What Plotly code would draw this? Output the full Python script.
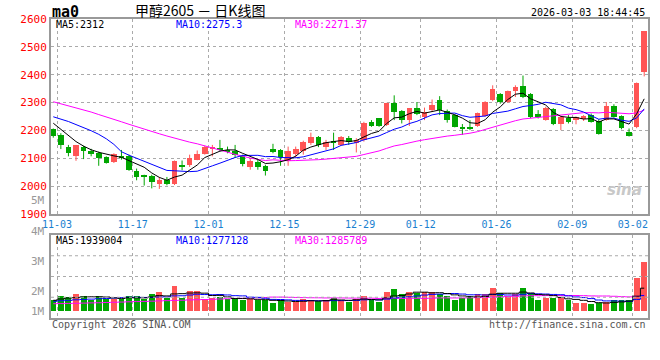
import plotly.graph_objects as go
import pandas as pd

# ---------------- data ----------------
dates = ["10-31",
         "11-03", "11-04", "11-05", "11-06", "11-07",
         "11-10", "11-11", "11-12", "11-13", "11-14",
         "11-17", "11-18", "11-19", "11-20", "11-21",
         "11-24", "11-25", "11-26", "11-27", "11-28",
         "12-01", "12-02", "12-03", "12-04", "12-05",
         "12-08", "12-09", "12-10", "12-11", "12-12",
         "12-15", "12-16", "12-17", "12-18", "12-19",
         "12-22", "12-23", "12-24", "12-25", "12-26",
         "12-29", "12-30", "12-31",
         "01-05", "01-06", "01-07", "01-08", "01-09",
         "01-12", "01-13", "01-14", "01-15", "01-16",
         "01-19", "01-20", "01-21", "01-22", "01-23",
         "01-26", "01-27", "01-28", "01-29", "01-30",
         "02-02", "02-03", "02-04", "02-05", "02-06",
         "02-09", "02-10", "02-11", "02-12", "02-13",
         "02-25", "02-26", "02-27",
         "03-02", "03-03"]

opens = [2205, 2184, 2142, 2109, 2141, 2127, 2118, 2103, 2085, 2110,
         2107, 2053, 2038, 2038, 2009, 2021, 2006, 2077, 2077, 2095,
         2116, 2133, 2138, 2131, 2127, 2109, 2069, 2085, 2073, 2133,
         2130, 2089, 2116, 2127, 2154, 2178, 2142, 2162, 2148, 2172,
         2156, 2166, 2231, 2243, 2219, 2299, 2269, 2239, 2279, 2249,
         2273, 2308, 2270, 2255, 2211, 2213, 2216, 2251, 2308, 2330,
         2302, 2341, 2358, 2330, 2258, 2237, 2276, 2223, 2243, 2237,
         2241, 2257, 2235, 2237, 2287, 2251, 2194, 2213, 2409]
highs = [2207, 2190, 2148, 2148, 2145, 2134, 2124, 2107, 2118, 2130,
         2113, 2063, 2041, 2041, 2033, 2033, 2092, 2092, 2113, 2128,
         2145, 2148, 2166, 2142, 2148, 2113, 2101, 2097, 2077, 2152,
         2133, 2142, 2142, 2163, 2192, 2180, 2166, 2192, 2180, 2180,
         2172, 2231, 2237, 2243, 2299, 2326, 2273, 2279, 2302, 2282,
         2311, 2323, 2275, 2258, 2223, 2237, 2264, 2305, 2362, 2334,
         2343, 2362, 2397, 2334, 2273, 2285, 2280, 2252, 2255, 2250,
         2255, 2261, 2240, 2302, 2294, 2254, 2207, 2372, 2557]
lows = [2174, 2133, 2107, 2091, 2097, 2107, 2073, 2081, 2083, 2095,
        2055, 2021, 2002, 1992, 1990, 2003, 2004, 2057, 2069, 2093,
        2113, 2107, 2125, 2118, 2101, 2071, 2059, 2059, 2038, 2118,
        2073, 2073, 2101, 2113, 2148, 2140, 2130, 2130, 2145, 2148,
        2121, 2160, 2213, 2213, 2216, 2237, 2225, 2216, 2255, 2237,
        2267, 2255, 2228, 2211, 2184, 2201, 2213, 2249, 2305, 2296,
        2299, 2320, 2316, 2244, 2243, 2235, 2219, 2201, 2225, 2222,
        2234, 2228, 2185, 2235, 2246, 2204, 2178, 2208, 2394]
closes = [2181, 2146, 2118, 2146, 2127, 2116, 2101, 2083, 2116, 2101,
          2057, 2032, 2033, 2014, 2021, 2006, 2089, 2067, 2101, 2116,
          2140, 2142, 2129, 2125, 2113, 2080, 2092, 2069, 2053, 2121,
          2103, 2127, 2134, 2160, 2178, 2148, 2160, 2154, 2178, 2160,
          2166, 2225, 2217, 2217, 2299, 2267, 2239, 2279, 2258, 2267,
          2291, 2273, 2237, 2213, 2207, 2208, 2261, 2302, 2350, 2302,
          2340, 2356, 2320, 2249, 2249, 2282, 2223, 2249, 2231, 2248,
          2253, 2231, 2187, 2287, 2249, 2210, 2181, 2370, 2557]
volumes = [910000, 1250000, 1165000, 1420000, 1250000, 960000, 1300000, 1020000, 1046000, 1020000,
           1250000, 1250000, 1020000, 1420000, 1590000, 1131000, 2100000, 1131000, 1675000, 1675000,
           995000, 1105000, 1190000, 1046000, 995000, 960000, 995000, 960000, 910000, 706000,
           910000, 765000, 765000, 995000, 910000, 825000, 910000, 1131000, 910000, 765000,
           1046000, 1250000, 910000, 765000, 1590000, 1870000, 1420000, 1590000, 1530000, 1590000,
           1590000, 1470000, 1250000, 960000, 1131000, 1250000, 1420000, 1420000, 1930000, 1530000,
           1250000, 1420000, 1930000, 1530000, 910000, 1080000, 1080000, 1190000, 910000, 680000,
           680000, 570000, 706000, 765000, 910000, 910000, 910000, 2805000, 4165000]

ma5_head = [2226, 2205, 2183, 2160]
ma10_head = [2249, 2241, 2232, 2221, 2211, 2199, 2186, 2170, 2150]
ma30_head = [2303, 2296, 2289, 2281, 2274, 2266, 2257, 2249, 2240, 2231,
             2222, 2213, 2205, 2196, 2188, 2180, 2172, 2165, 2158, 2152,
             2145, 2138, 2130, 2122, 2114, 2107, 2101, 2096, 2092]
vma5_head = [910000, 1020000, 1105000, 1131000]
vma10_head = [825000, 870000, 905000, 950000, 985000, 1010000, 1040000, 1065000, 1100000]
vma30_head = [620000, 630000, 645000, 655000, 670000, 690000, 700000, 720000, 740000, 760000,
              780000, 800000, 815000, 835000, 860000, 880000, 900000, 915000, 940000, 960000,
              975000, 1000000, 1020000, 1040000, 1060000, 1080000, 1100000, 1120000, 1150000]

# headline values printed on the chart
price_ma_text = ["MA5:2312", "MA10:2275.3", "MA30:2271.37"]
volume_ma_text = ["MA5:1939004", "MA10:1277128", "MA30:1285789"]

tick_dates = ["11-03", "11-17", "12-01", "12-15", "12-29", "01-12", "01-26", "02-09", "03-02"]
price_ticks = [1900, 2000, 2100, 2200, 2300, 2400, 2500, 2600]
volume_labels = ["5M", "4M", "3M", "2M", "1M"]

# ---------------- derived ----------------
n = len(closes)
idx = list(range(n))


def moving(values, w, head):
    s = pd.Series(values, dtype=float).rolling(w).mean().tolist()
    return list(head) + s[w - 1:]


ma5 = moving(closes, 5, ma5_head)
ma10 = moving(closes, 10, ma10_head)
ma30 = moving(closes, 30, ma30_head)
vma5 = moving(volumes, 5, vma5_head)
vma10 = moving(volumes, 10, vma10_head)
vma30 = moving(volumes, 30, vma30_head)

RED = "#FF5555"
GREEN = "#00A600"
up = [c >= o for o, c in zip(opens, closes)]
colors = [RED if u else GREEN for u in up]
body_base = [min(o, c) for o, c in zip(opens, closes)]
body_h = [max(abs(c - o), 3) for o, c in zip(opens, closes)]

MONO = "DejaVu Sans Mono"

fig = go.Figure()

# wicks
for flag, col in ((True, RED), (False, GREEN)):
    wx, wy = [], []
    for i in idx:
        if up[i] == flag:
            wx += [i, i, None]
            wy += [lows[i], highs[i], None]
    fig.add_trace(go.Scatter(x=wx, y=wy, mode="lines", line=dict(color=col, width=1),
                             hoverinfo="skip", showlegend=False, xaxis="x", yaxis="y"))

# bodies
fig.add_trace(go.Bar(x=idx, y=body_h, base=body_base, width=0.74,
                     marker=dict(color=colors, line=dict(width=0)),
                     showlegend=False, xaxis="x", yaxis="y"))

for vals, col in ((ma30, "#FF00FF"), (ma10, "#0000FF"), (ma5, "#000000")):
    fig.add_trace(go.Scatter(x=idx, y=vals, mode="lines", line=dict(color=col, width=1),
                             showlegend=False, xaxis="x", yaxis="y"))

# volume
fig.add_trace(go.Bar(x=idx, y=volumes, width=0.78,
                     marker=dict(color=colors, line=dict(width=0)),
                     showlegend=False, xaxis="x2", yaxis="y2"))
for vals, col in ((vma30, "#FF00FF"), (vma10, "#0000FF"), (vma5, "#000000")):
    fig.add_trace(go.Scatter(x=idx, y=vals, mode="lines", line=dict(color=col, width=1, shape="hvh"),
                             showlegend=False, xaxis="x2", yaxis="y2"))

# ---------------- layout ----------------
L, R, T, B = 51, 10, 19, 42
W, H = 660, 360
PW, PH = W - L - R, H - T - B


def px(x):
    return (x - L) / PW


def py(y):
    return (H - B - y) / PH


tickvals = [dates.index(d) - 0.5 for d in tick_dates]
grid = dict(showgrid=True, gridcolor="#AAAAAA", griddash="dot", gridwidth=1)
frame = dict(showline=True, linecolor="#999999", linewidth=2, mirror=True, zeroline=False, ticks="")

fig.update_layout(
    width=W, height=H,
    margin=dict(l=L, r=R, t=T, b=B),
    paper_bgcolor="white", plot_bgcolor="white",
    bargap=0, showlegend=False, hovermode=False,
    xaxis=dict(domain=[0, 1], range=[-0.3, 78.5], tickvals=tickvals, ticktext=tick_dates,
               tickfont=dict(family=MONO, size=10, color="#1A7FD0"), anchor="y", **grid, **frame),
    xaxis2=dict(domain=[0, 1], range=[-0.3, 78.5], tickvals=tickvals, showticklabels=False,
                matches="x", anchor="y2", **grid, **frame),
    yaxis=dict(domain=[py(214), 1], range=[1900, 2600], tickvals=price_ticks,
               tickfont=dict(family=MONO, size=11, color="#FF0000"), anchor="x", **grid, **frame),
    yaxis2=dict(domain=[0, py(235)], range=[-595000, 6460000], showticklabels=False,
                showgrid=False, anchor="x2", **frame),
)

# volume panel grid lines (quarters of the panel)
for q in (0.25, 0.5, 0.75):
    fig.add_shape(type="line", xref="x2 domain", yref="y2 domain", x0=0, x1=1, y0=q, y1=q,
                  line=dict(color="#AAAAAA", width=1, dash="dot"))

ann = []


def text(x, y, s, color="#000000", size=10, anchor="left", family=MONO, bold=False, italic=False):
    if bold:
        s = "<b>" + s + "</b>"
    if italic:
        s = "<i>" + s + "</i>"
    ann.append(dict(x=px(x), y=py(y), xref="paper", yref="paper", text=s, showarrow=False,
                    xanchor=anchor, yanchor="middle",
                    font=dict(family=family, size=size, color=color)))


text(50, 12, "ma0", size=15, bold=True)
text(200, 10, "甲醇2605 － 日K线图", size=14, anchor="center", family="Noto Sans CJK SC")
text(649, 12, "2026-03-03 18:44:45", size=10, anchor="right")
for s, xx, col in zip(price_ma_text, (54, 174, 294), ("#000000", "#0000FF", "#FF00FF")):
    text(xx, 25, s, color=col)
for s, xx, col in zip(volume_ma_text, (54, 174, 294), ("#000000", "#0000FF", "#FF00FF")):
    text(xx, 241, s, color=col)
for lab, yy in zip(volume_labels, (200, 231, 261, 291, 311)):
    text(47, yy, lab, color="#999999", size=11, anchor="right")
text(50, 324, "Copyright 2026 SINA.COM", color="#555555")
text(650, 324, "http://finance.sina.com.cn", color="#555555", anchor="right")
text(626, 190, "sina", color="#C8C8C8", size=15, anchor="center", family="DejaVu Sans", bold=True, italic=True)

fig.update_layout(annotations=ann)
fig.write_html("out.html", config={"displayModeBar": False},
               post_script="document.body.style.margin='0px';")
